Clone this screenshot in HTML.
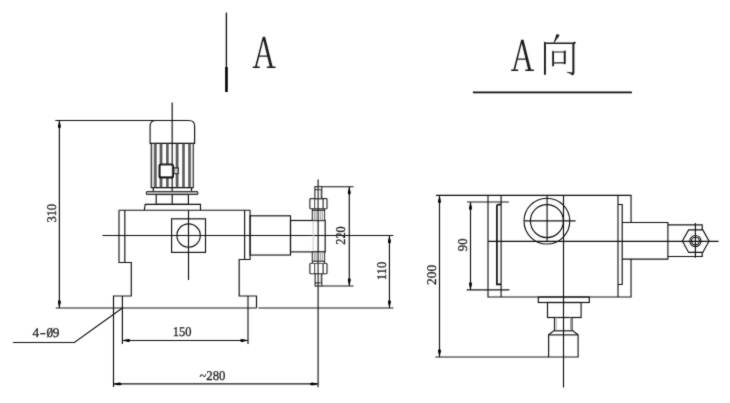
<!DOCTYPE html>
<html><head><meta charset="utf-8"><style>
html,body{margin:0;padding:0;background:#fff;width:730px;height:403px;overflow:hidden}
svg{display:block;filter:grayscale(1)}
text{font-family:"Liberation Serif",serif;fill:#222;text-rendering:geometricPrecision}
.num text{font-size:13.3px;fill:#1e1e1e;stroke:#1e1e1e;stroke-width:0.3}
</style></head><body>
<svg width="730" height="403" viewBox="0 0 730 403">
<defs><filter id="bl" x="0" y="0" width="730" height="403" filterUnits="userSpaceOnUse"><feConvolveMatrix order="3" kernelMatrix="1 2 1 2 20 2 1 2 1" divisor="32" edgeMode="duplicate" preserveAlpha="false"/></filter></defs>
<g filter="url(#bl)">
<g fill="none" stroke="#111" stroke-width="1.15">
<!-- ============ LEFT VIEW ============ -->
<!-- section mark -->
<line x1="226.4" y1="12.6" x2="226.4" y2="67.2" stroke-width="1.3"/>
<line x1="226.45" y1="67" x2="226.45" y2="92" stroke-width="2.6" stroke="#000"/>

<!-- motor centerline -->
<line x1="172.2" y1="102.5" x2="172.2" y2="204.4"/>
<!-- fan cover -->
<path d="M150.1 143.4 V126 Q150.1 120.45 155.8 120.45 H189 Q194.6 120.45 194.6 126 V143.4 Z"/>
<!-- motor body -->
<path d="M151.3 143.4 V187.6 H193.3 V143.4"/>
<!-- ribs -->
<g stroke="#5a5a5a">
<line x1="155.4" y1="144" x2="155.4" y2="187" stroke-width="2.6"/>
<line x1="161" y1="144" x2="161" y2="187" stroke-width="2.8"/>
<line x1="167.4" y1="144" x2="167.4" y2="187" stroke-width="2.6"/>
<line x1="177.1" y1="144" x2="177.1" y2="187" stroke-width="2.8"/>
<line x1="183.5" y1="144" x2="183.5" y2="187" stroke-width="2.6"/>
<line x1="189.5" y1="144" x2="189.5" y2="187" stroke-width="2.6"/>
</g>
<g stroke="#aaa" stroke-width="1">
<line x1="153" y1="144" x2="153" y2="187"/>
<line x1="192.3" y1="144" x2="192.3" y2="187"/>
</g>
<!-- terminal box -->
<rect x="159.6" y="164.5" width="13.3" height="12.9" rx="1.5" fill="#fff" stroke-width="2.2"/>
<rect x="173.8" y="167.9" width="4.4" height="5.7" fill="#ccc"/>
<!-- legs -->
<line x1="153.3" y1="187.6" x2="153.3" y2="191.4"/>
<line x1="191.5" y1="187.6" x2="191.5" y2="191.4"/>
<!-- flange -->
<rect x="146.4" y="191.6" width="51.4" height="2.8" rx="1" fill="#ddd"/>
<!-- adapter -->
<rect x="156.2" y="194.5" width="32.2" height="9.9"/>
<!-- base plate -->
<path d="M144.3 210.25 L145.2 204.4 H200.5 V210.25"/>

<!-- gearbox -->
<path d="M119 210.25 H250.2"/>
<path d="M119 210.25 V262.5 H131.3 V296 H113.5 V308"/>
<line x1="124.8" y1="210.25" x2="124.8" y2="262.5"/>
<path d="M250.1 210.25 V259.5 H239.2 V296 H256.5 V308"/>
<line x1="244.6" y1="210.25" x2="244.6" y2="259.5"/>
<!-- feet hole centerlines -->
<line x1="122.4" y1="296" x2="122.4" y2="344"/>
<line x1="248" y1="296" x2="248" y2="344"/>

<!-- inlet -->
<rect x="171.6" y="218.8" width="33.9" height="33.6"/>
<circle cx="188.6" cy="235.5" r="11.7"/>
<line x1="188.5" y1="210.25" x2="188.5" y2="280"/>

<!-- horizontal centerline -->
<line x1="102.4" y1="235.5" x2="393.4" y2="235.5"/>
<!-- ground line -->
<line x1="55.8" y1="308" x2="256.5" y2="308"/>
<line x1="258.5" y1="308" x2="393.4" y2="308"/>

<!-- pump cylinder -->
<rect x="250.1" y="215.8" width="40.4" height="39.25"/>
<rect x="290.5" y="220.5" width="34.7" height="31.4"/>
<line x1="313.2" y1="220.5" x2="313.2" y2="251.9" stroke="#bbb" stroke-width="0.8"/>

<!-- top valve -->
<rect x="312.4" y="208.7" width="12.1" height="11.8" fill="#fff"/>
<g stroke="#888" stroke-width="0.9"><line x1="314.3" y1="210.4" x2="314.3" y2="220"/><line x1="316" y1="210.4" x2="316" y2="220"/><line x1="320.3" y1="210.4" x2="320.3" y2="220"/><line x1="322.3" y1="210.4" x2="322.3" y2="220"/></g>
<line x1="312.4" y1="210.4" x2="324.5" y2="210.4"/>
<rect x="309.9" y="198.6" width="17.1" height="10.1" rx="0.8" fill="#fff"/>
<line x1="314.6" y1="198.6" x2="314.6" y2="208.7"/><line x1="323.1" y1="198.6" x2="323.1" y2="208.7"/>
<rect x="314.9" y="186.7" width="6.8" height="11.9" fill="#fff"/>
<line x1="314.9" y1="189.6" x2="321.7" y2="189.6"/>
<line x1="320.4" y1="189.6" x2="320.4" y2="198.6" stroke="#aaa" stroke-width="0.8"/>
<!-- bottom valve -->
<rect x="312.4" y="251.9" width="12.1" height="11.6" fill="#fff"/>
<g stroke="#888" stroke-width="0.9"><line x1="314.3" y1="252.4" x2="314.3" y2="261.5"/><line x1="316" y1="252.4" x2="316" y2="261.5"/><line x1="320.3" y1="252.4" x2="320.3" y2="261.5"/><line x1="322.3" y1="252.4" x2="322.3" y2="261.5"/></g>
<line x1="312.4" y1="261.3" x2="324.5" y2="261.3"/>
<rect x="309.9" y="263.5" width="17.1" height="10.2" rx="0.8" fill="#fff"/>
<line x1="314.6" y1="263.5" x2="314.6" y2="273.7"/><line x1="323.1" y1="263.5" x2="323.1" y2="273.7"/>
<rect x="315.2" y="273.7" width="6.5" height="12.3" fill="#fff"/>
<line x1="315.2" y1="282.9" x2="321.7" y2="282.9"/>
<line x1="320.4" y1="273.7" x2="320.4" y2="282.9" stroke="#aaa" stroke-width="0.8"/>
<!-- valve centerline -->
<line x1="318.1" y1="179.6" x2="318.1" y2="387.2"/>

<!-- dim 220 -->
<line x1="321.7" y1="186.7" x2="353.5" y2="186.7"/>
<line x1="321.7" y1="286" x2="353.5" y2="286"/>
<line x1="349.3" y1="186.7" x2="349.3" y2="286"/>
<!-- dim 110 -->
<line x1="389.45" y1="235.5" x2="389.45" y2="308"/>
<!-- dim 310 -->
<line x1="55.3" y1="120.45" x2="156" y2="120.45"/>
<line x1="59.4" y1="120.45" x2="59.4" y2="308"/>
<!-- leader 4-Ø9 -->
<path d="M122.4 308 L74.4 342.45 H12.9"/>
<!-- dim 150 -->
<line x1="122.4" y1="340.5" x2="248" y2="340.5"/>
<!-- dim ~280 -->
<line x1="113.5" y1="308" x2="113.5" y2="387"/>
<line x1="113.5" y1="383.9" x2="318.1" y2="383.9"/>

<!-- ============ RIGHT VIEW ============ -->
<line x1="472.9" y1="92.4" x2="631.9" y2="92.4" stroke-width="1.6"/>
<!-- body -->
<path d="M488 195.4 V297 H631.05 V259.1 M631.05 222.5 V195.4 H436"/>
<line x1="501.1" y1="195.4" x2="501.1" y2="297"/>
<line x1="618" y1="195.4" x2="618" y2="297"/>
<path d="M501.1 204.6 H498.4 Q496.9 204.6 496.9 206 V284.3 H501.1" stroke-width="1.7"/>
<path d="M618 204.5 H622.2 V284.5 H618"/>
<line x1="563.5" y1="195.4" x2="563.5" y2="387.5"/>
<line x1="488" y1="241.3" x2="718.6" y2="241.3"/>
<circle cx="546.9" cy="221.1" r="22.9"/>
<circle cx="546.9" cy="221.1" r="16.5"/>
<line x1="547.1" y1="195.4" x2="547.1" y2="241"/>
<line x1="524.2" y1="220.9" x2="575.6" y2="220.9"/>
<!-- pump in right view -->
<path d="M622.2 222.5 H667.9 V259.1 H622.2"/>
<path d="M667.9 224.9 H702.2 V229.9 M667.9 256.5 H702.2 V252.4"/>
<path d="M682.4 241 L688.6 229.9 H702.8 L709 241 L702.8 252.4 H688.6 Z"/>
<circle cx="695.4" cy="241.1" r="5.6"/>
<circle cx="695.4" cy="241.1" r="3.9"/>
<line x1="695.4" y1="223" x2="695.4" y2="257.8"/>
<!-- motor bottom -->
<rect x="538.3" y="297" width="51" height="5.5"/>
<rect x="547.5" y="302.5" width="33.6" height="15"/>
<path d="M554.5 317.5 V330.3 L548.6 334.9 V357 H578.1 V334.9 L572 330.3 V317.5"/>
<line x1="556.2" y1="317.5" x2="556.2" y2="330.3" stroke="#999" stroke-width="0.9"/><line x1="570.5" y1="317.5" x2="570.5" y2="330.3" stroke="#999" stroke-width="0.9"/>
<line x1="554.5" y1="330.8" x2="572" y2="330.8"/>
<line x1="548.6" y1="334.9" x2="578.1" y2="334.9"/>
<!-- dim 200 -->
<line x1="439.5" y1="195.4" x2="439.5" y2="357"/>
<line x1="435.4" y1="357" x2="548.6" y2="357"/>
<!-- dim 90 -->
<line x1="467" y1="202" x2="508.8" y2="202"/>
<line x1="466.7" y1="289.9" x2="509.3" y2="289.9"/>
<line x1="470.5" y1="202" x2="470.5" y2="289.9"/>
</g>

<!-- arrows -->
<defs><path id="ar" d="M0 0 C0.5 2 1.35 4.4 1.45 5.9 C1.5 7.3 0.7 8 0 8 C-0.7 8 -1.5 7.3 -1.45 5.9 C-1.35 4.4 -0.5 2 0 0Z"/></defs>
<g fill="#000" stroke="none">
<use href="#ar" transform="translate(59.4 120.45) rotate(0)"/>
<use href="#ar" transform="translate(59.4 308) rotate(180)"/>
<use href="#ar" transform="translate(349.3 186.7) rotate(0)"/>
<use href="#ar" transform="translate(349.3 286) rotate(180)"/>
<use href="#ar" transform="translate(389.45 235.5) rotate(0)"/>
<use href="#ar" transform="translate(389.45 308) rotate(180)"/>
<use href="#ar" transform="translate(122.4 340.5) rotate(-90)"/>
<use href="#ar" transform="translate(248 340.5) rotate(90)"/>
<use href="#ar" transform="translate(113.5 383.9) rotate(-90)"/>
<use href="#ar" transform="translate(318.1 383.9) rotate(90)"/>
<use href="#ar" transform="translate(439.5 195.4) rotate(0)"/>
<use href="#ar" transform="translate(439.5 357) rotate(180)"/>
<use href="#ar" transform="translate(470.5 202) rotate(0)"/>
<use href="#ar" transform="translate(470.5 289.9) rotate(180)"/>
</g>

<!-- texts -->
<g class="num">
<text x="0" y="0" textLength="18.7" lengthAdjust="spacingAndGlyphs" text-anchor="middle" transform="translate(55.75 213.25) rotate(-90)">310</text>
<text x="0" y="0" textLength="18.6" lengthAdjust="spacingAndGlyphs" text-anchor="middle" transform="translate(344.6 235.5) rotate(-90)">220</text>
<text x="0" y="0" textLength="18.2" lengthAdjust="spacingAndGlyphs" text-anchor="middle" transform="translate(386 270.9) rotate(-90)">110</text>
<text x="0" y="0" textLength="12.7" lengthAdjust="spacingAndGlyphs" text-anchor="middle" transform="translate(467 244.85) rotate(-90)">90</text>
<text x="0" y="0" textLength="20" lengthAdjust="spacingAndGlyphs" text-anchor="middle" transform="translate(435.9 274.95) rotate(-90)">200</text>
<text x="182.15" y="336.4" textLength="18.7" lengthAdjust="spacingAndGlyphs" text-anchor="middle">150</text>
<text x="212.45" y="380" textLength="26" lengthAdjust="spacingAndGlyphs" text-anchor="middle">~280</text>
<text x="35.75" y="336.6" text-anchor="middle">4</text>
<text x="49.75" y="336.6" text-anchor="middle">0</text>
<text x="56.1" y="336.6" text-anchor="middle">9</text>
</g>
<line x1="40.2" y1="333.7" x2="45.5" y2="333.7" stroke="#222" stroke-width="1.3"/>
<line x1="47.3" y1="337.5" x2="52.2" y2="327.8" stroke="#222" stroke-width="0.9"/>

<!-- A glyphs -->
<defs><path id="gA" fill-rule="evenodd" d="M262.80 36.70 L265.10 36.70 L272.60 66.50 L275.50 66.50 L275.50 68.10 L266.90 68.10 L266.90 66.50 L269.70 66.50 L267.37 56.80 L259.23 56.80 L256.80 66.50 L259.80 66.50 L259.80 68.10 L252.80 68.10 L252.80 66.50 L255.10 66.50 Z M259.53 55.60 L267.08 55.60 L263.38 40.17 Z"/></defs>
<g fill="#1a1a1a" stroke="none">
<use href="#gA"/>
<use href="#gA" transform="translate(258.4 3)"/>
</g>
<!-- 向 -->
<g fill="#1a1a1a" stroke="none">
<path d="M556.2 34.6 Q557.8 33.8 559.6 35.2 L558.6 36.8 L554.1 43 L553.6 42.7 L555.6 37 Z"/>
<path d="M543.4 41.2 L545.8 42.4 H573 L574.4 41.6 L576.3 43.1 L574.4 44.1 V73 Q574.2 74.9 572.4 75.6 Q571 73.6 566.6 72.2 L566.8 71.7 L571.8 72.6 Q572.4 72.6 572.4 72 V43.9 H545.9 V74.4 L544 75 V42.2 Z"/>
<path d="M552.2 50.6 L554 51.4 H563.7 L564.7 50.2 L566.2 51.4 L565.7 52 V64 L563.8 64.3 V63.4 H554 V66 L552.2 66.6 Z M554 52.6 V62.3 H563.8 V52.6 Z" fill-rule="evenodd"/>
</g>
</g></svg>
</body></html>
